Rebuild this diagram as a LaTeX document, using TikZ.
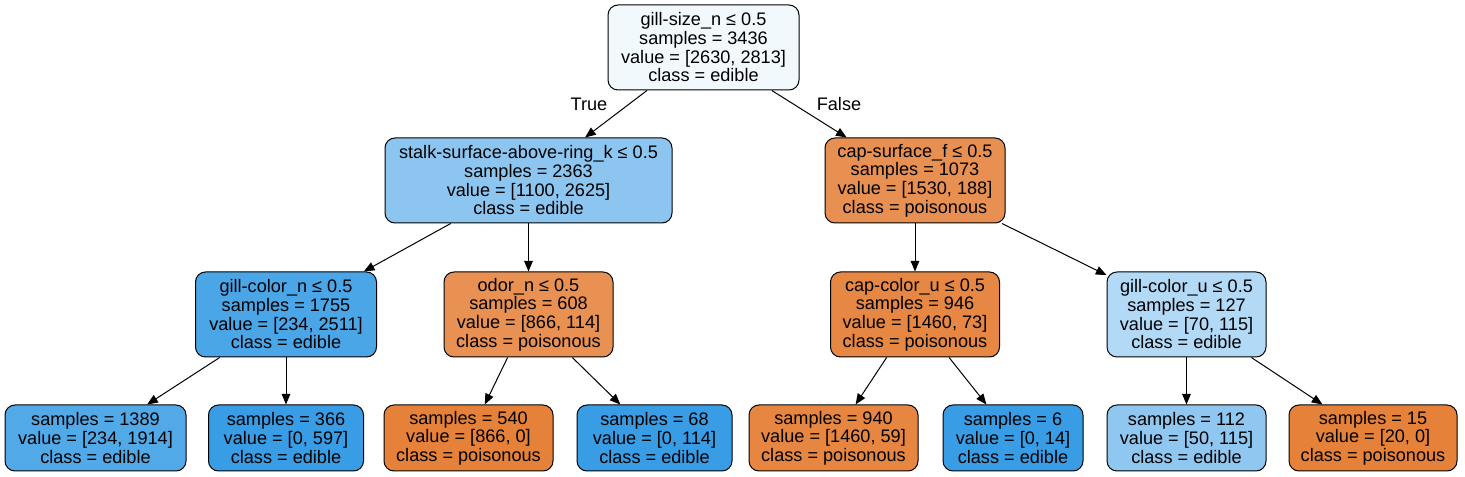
\documentclass[tikz,border=0pt]{standalone}
\usepackage{fontspec}
\setmainfont{Liberation Sans}
\usetikzlibrary{arrows.meta}

\definecolor{root}{HTML}{F2F9FD}
\definecolor{lbluea}{HTML}{8CC6F0}
\definecolor{lblueb}{HTML}{8FC7F0}
\definecolor{lbluec}{HTML}{B2D9F5}
\definecolor{mbluea}{HTML}{4BA6E7}
\definecolor{mblueb}{HTML}{51A9E8}
\definecolor{fblue}{HTML}{399DE5}
\definecolor{morangea}{HTML}{E89051}
\definecolor{morangeb}{HTML}{E89153}
\definecolor{morangec}{HTML}{E68743}
\definecolor{morangee}{HTML}{E68641}
\definecolor{forange}{HTML}{E58139}

\newcommand*{\leqsep}{ ≤ }

\begin{document}
\begin{tikzpicture}
[
	x=0.75pt, y=-0.75pt,
	treenode/.style={draw,rounded corners=7.5pt,align=center,inner sep=0pt,line width=0.75pt,
		font=\fontsize{13.6pt}{14pt}\selectfont},
	splitnode/.style={treenode,minimum height=63.75pt},
	leafnode/.style={treenode,minimum height=49.5pt},
	edge/.style={line width=0.75pt,-{Triangle[length=8pt,width=6.5pt]}},
	edgelabel/.style={font=\fontsize{13.6pt}{14pt}\selectfont}
]

	\useasboundingbox (0,0) rectangle (1465,477);

	% root
	\node[splitnode,fill=root,minimum width=143.25pt] (gs) at (703.5,47.5)
		{gill-size\_n\leqsep 0.5\\samples = 3436\\value = [2630, 2813]\\class = edible};

	% first split
	\node[splitnode,fill=lbluea,minimum width=215.25pt] (ss) at (528.5,180.5)
		{stalk-surface-above-ring\_k\leqsep 0.5\\samples = 2363\\value = [1100, 2625]\\class = edible};
	\node[splitnode,fill=morangea,minimum width=135pt] (cs) at (915,180.5)
		{cap-surface\_f\leqsep 0.5\\samples = 1073\\value = [1530, 188]\\class = poisonous};

	% second split
	\node[splitnode,fill=mbluea,minimum width=135.75pt] (gcn) at (286,314.5)
		{gill-color\_n\leqsep 0.5\\samples = 1755\\value = [234, 2511]\\class = edible};
	\node[splitnode,fill=morangeb,minimum width=126.75pt] (od) at (528.5,314.5)
		{odor\_n\leqsep 0.5\\samples = 608\\value = [866, 114]\\class = poisonous};
	\node[splitnode,fill=morangec,minimum width=126.75pt] (ccu) at (915,314.5)
		{cap-color\_u\leqsep 0.5\\samples = 946\\value = [1460, 73]\\class = poisonous};
	\node[splitnode,fill=lbluec,minimum width=119.25pt] (gcu) at (1186.5,314.5)
		{gill-color\_u\leqsep 0.5\\samples = 127\\value = [70, 115]\\class = edible};

	% leaves
	\node[leafnode,fill=mblueb,minimum width=135.75pt] (l1) at (95.5,438)
		{samples = 1389\\value = [234, 1914]\\class = edible};
	\node[leafnode,fill=fblue,minimum width=116.25pt] (l2) at (286,438)
		{samples = 366\\value = [0, 597]\\class = edible};
	\node[leafnode,fill=forange,minimum width=126.75pt] (l3) at (468.5,438)
		{samples = 540\\value = [866, 0]\\class = poisonous};
	\node[leafnode,fill=fblue,minimum width=116.25pt] (l4) at (654.5,438)
		{samples = 68\\value = [0, 114]\\class = edible};
	\node[leafnode,fill=morangee,minimum width=126.75pt] (l5) at (833.5,438)
		{samples = 940\\value = [1460, 59]\\class = poisonous};
	\node[leafnode,fill=fblue,minimum width=105pt] (l6) at (1013,438)
		{samples = 6\\value = [0, 14]\\class = edible};
	\node[leafnode,fill=lblueb,minimum width=119.25pt] (l7) at (1186.5,438)
		{samples = 112\\value = [50, 115]\\class = edible};
	\node[leafnode,fill=forange,minimum width=126pt] (l8) at (1373,438)
		{samples = 15\\value = [20, 0]\\class = poisonous};

	% edges
	\draw[edge] (gs) -- (ss);
	\draw[edge] (gs) -- (cs);
	\draw[edge] (ss) -- (gcn);
	\draw[edge] (ss) -- (od);
	\draw[edge] (cs) -- (ccu);
	\draw[edge] (cs) -- (gcu);
	\draw[edge] (gcn) -- (l1);
	\draw[edge] (gcn) -- (l2);
	\draw[edge] (od) -- (l3);
	\draw[edge] (od) -- (l4);
	\draw[edge] (ccu) -- (l5);
	\draw[edge] (ccu) -- (l6);
	\draw[edge] (gcu) -- (l7);
	\draw[edge] (gcu) -- (l8);

	\node[edgelabel] (tr) at (589,104) {True};
	\node[edgelabel] (fa) at (839,104) {False};

\end{tikzpicture}
\end{document}
